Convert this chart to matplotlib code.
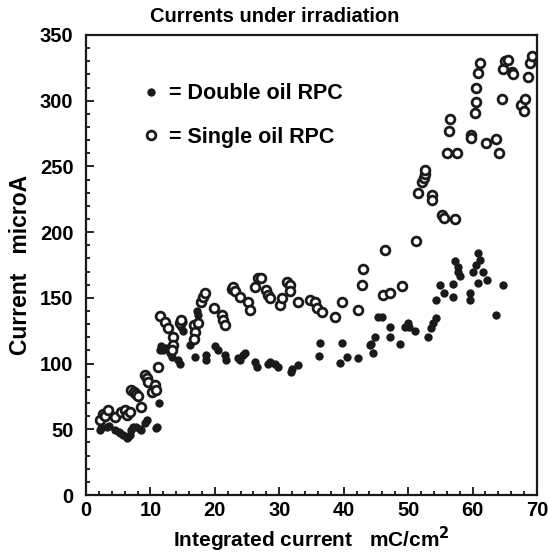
import matplotlib
matplotlib.use("Agg")
import matplotlib.pyplot as plt
from matplotlib.lines import Line2D
from matplotlib.ticker import MultipleLocator

plt.rcParams['font.family'] = ['Liberation Sans', 'DejaVu Sans']
plt.rcParams['font.weight'] = 'bold'

# Double oil RPC (filled)
double_x = [2.2, 2.4, 3.2, 3.5, 4.5, 5.2, 5.3, 5.7, 6.3, 6.6, 6.8, 7.0, 7.3, 7.8, 8.4, 8.6,
            9.2, 9.4, 10.9, 11.0, 11.4, 11.5, 11.7, 12.0, 12.5, 13.0, 13.3, 14.3, 14.6, 14.8,
            15.1, 15.0, 16.1, 16.9, 17.2, 17.4, 18.7, 18.7, 20.0, 20.5, 21.6, 21.8, 23.6, 23.9,
            24.4, 24.7, 26.2, 26.5, 28.3, 28.6, 29.3, 29.8, 31.9, 32.0, 32.9, 36.1, 36.3, 39.4,
            39.7, 40.5, 42.3, 44.1, 44.3, 44.6, 44.9, 45.4, 45.9, 47.2, 47.2, 48.7, 49.5, 50.0,
            50.2, 51.1, 53.1, 53.6, 53.9, 54.4, 54.4, 54.9, 55.5, 57.0, 57.0, 57.3, 57.8, 57.8,
            58.0, 59.6, 59.6, 60.1, 60.6, 60.9, 61.2, 61.7, 60.9, 62.2, 63.7, 64.8]
double_y = [49.5, 51, 52, 52.5, 49.5, 48, 47, 45.7, 43, 44, 45.7, 49.5, 52, 52, 50.5, 49.5,
            55, 57, 51, 52, 70, 110, 113, 110, 112, 108, 105, 102.7, 100, 128,
            132, 125, 114, 105, 140, 137, 106.5, 102.7, 113, 110, 106.5, 102.7, 104, 102.7,
            106.5, 108, 101.5, 97.6, 100, 101, 100, 97.6, 93.8, 96, 99, 105.8, 115.5, 100.7,
            116, 105, 104, 114, 115, 108, 120.5, 135.7, 135.7, 128, 120, 115, 128, 130.7,
            128, 125, 120, 127, 130.7, 135, 148, 160, 153.5, 160.3, 150.4, 178, 173.7, 170,
            166.7, 153.5, 148, 169.5, 175, 184, 179, 170, 161, 163.6, 137, 160]

# Single oil RPC (open)
single_x = [2.1, 2.6, 3.0, 3.4, 4.5, 5.5, 6.0, 6.3, 6.8, 7.0, 7.5, 7.8, 8.1, 8.6, 9.1, 9.4,
            9.6, 10.2, 10.7, 10.9, 11.2, 11.5, 12.3, 12.8, 13.5, 13.5, 13.3, 14.6, 14.8, 16.7,
            16.9, 16.7, 17.4, 17.9, 18.2, 18.5, 19.8, 21.1, 21.3, 21.6, 22.6, 22.9, 23.1, 23.9,
            25.2, 25.5, 26.2, 26.7, 27.2, 28.0, 28.3, 28.5, 30.1, 30.4, 31.2, 31.7, 31.7, 32.9,
            34.8, 35.5, 35.8, 36.6, 38.6, 39.7, 42.3, 42.8, 43.0, 46.1, 46.4, 47.2, 49.0, 51.2,
            51.6, 52.1, 52.4, 52.6, 52.7, 53.7, 53.7, 55.2, 55.5, 56.1, 56.4, 56.5, 57.3, 57.6,
            59.8, 59.8, 60.4, 60.5, 60.6, 60.8, 61.2, 62.1, 63.6, 64.1, 64.6, 64.8, 65.0, 65.5,
            66.1, 66.3, 67.6, 68.0, 68.1, 68.6, 68.9, 69.3]
single_y = [57, 62, 60, 64.7, 59.6, 63.4, 65, 61, 63.4, 80, 78, 77, 75, 67, 91, 89,
            86, 78.6, 84, 80, 97.6, 136, 132, 127, 120, 114, 110, 131, 133, 129,
            124, 119, 130.6, 147, 151, 153.5, 142, 137, 133, 129.4, 157, 158.5, 155, 151,
            147, 141, 158.5, 165, 165, 156, 152, 150, 144.6, 149.7, 162, 160, 155, 147,
            148, 147, 142, 139.5, 135.7, 147, 141, 160, 172, 152, 186.5, 153.5, 159.3, 193,
            230, 238.5, 241, 244, 247, 228, 224.5, 213, 210.5, 260.5, 277, 286, 209.8, 260.5,
            274, 271.5, 291, 299.3, 309.5, 321, 329, 268, 270.7, 260.5, 301, 324, 330, 331,
            322, 320, 296.8, 292, 301, 317.7, 329, 334]

x_ticks = [0, 10, 20, 30, 40, 50, 60, 70]
y_ticks = [0, 50, 100, 150, 200, 250, 300, 350]

fig = plt.figure(figsize=(5.49, 5.58), dpi=100)
ax = fig.add_axes([0.1566, 0.1129, 0.8214, 0.8244])

ax.plot(double_x, double_y, 'o', color='#1a1a1a', markersize=6, markeredgewidth=0, linestyle='none')
ax.plot(single_x, single_y, 'o', markerfacecolor='white', markeredgecolor='#1a1a1a',
        markersize=6.3, markeredgewidth=2.0, linestyle='none')

ax.set_xlim(0, 70)
ax.set_ylim(0, 350)
ax.set_xticks(x_ticks)
ax.set_yticks(y_ticks)
ax.xaxis.set_minor_locator(MultipleLocator(2))
ax.yaxis.set_minor_locator(MultipleLocator(10))
ax.tick_params(which='both', direction='in', top=False, right=False, width=1.2, labelsize=14.5)
ax.tick_params(which='major', length=6)
ax.tick_params(which='minor', length=3)
ax.tick_params(axis='y', which='major', pad=9)
ax.tick_params(axis='x', which='major', pad=4)
for lab in ax.get_xticklabels() + ax.get_yticklabels():
    lab.set_fontweight('bold')
for s in ax.spines.values():
    s.set_linewidth(1.6)
    s.set_color('#1a1a1a')

fig.text(0.5, 1 - 17 / 558, 'Currents under irradiation', fontsize=14.5, fontweight='bold',
         ha='center', va='center')
ax.set_xlabel('Integrated current   mC/cm$^{\\mathbf{2}}$', fontsize=15, fontweight='bold', labelpad=4)
ax.set_ylabel('Current   microA', fontsize=16.5, fontweight='bold', labelpad=6)

handles = [Line2D([], [], marker='o', color='#1a1a1a', linestyle='none', markersize=6, markeredgewidth=0),
           Line2D([], [], marker='o', markerfacecolor='white', markeredgecolor='#1a1a1a',
                  linestyle='none', markersize=6.3, markeredgewidth=2.0)]
ax.legend(handles, ['= Double oil RPC', '= Single oil RPC'], loc='upper left',
          bbox_to_anchor=(0.083, 0.937), frameon=False, prop={'weight': 'bold', 'size': 15.5},
          labelspacing=1.05, handlelength=0.8, handletextpad=0.4)

fig.savefig('out.png', dpi=100)
